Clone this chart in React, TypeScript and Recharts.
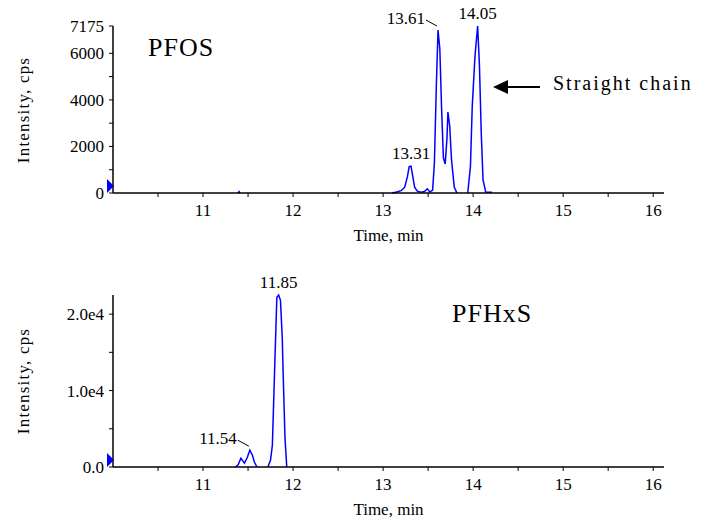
import { LineChart, Line, XAxis, YAxis, ReferenceDot } from 'recharts';

// PFOS trace (time in min, intensity in cps); null breaks the trace
const pfosTime = [11.39, 11.4, 11.41, 11.5, 13.1, 13.15, 13.2, 13.24, 13.27, 13.29, 13.31, 13.33, 13.35, 13.38, 13.42, 13.46, 13.49, 13.52, 13.55, 13.57, 13.59, 13.61, 13.63, 13.65, 13.67, 13.69, 13.71, 13.72, 13.74, 13.76, 13.79, 13.82, 13.9, 13.94, 13.97, 13.99, 14.02, 14.05, 14.07, 14.09, 14.11, 14.14, 14.21];
const pfosIntensity = [0, 60, 0, null, 0, 40, 100, 250, 700, 1130, 1150, 700, 250, 80, 30, 60, 180, 40, 120, 1300, 4400, 7000, 6200, 3600, 1500, 1250, 2400, 3480, 2870, 1430, 260, 0, null, 0, 1130, 3700, 5850, 7175, 5500, 2600, 560, 40, 30];

// PFHxS trace
const pfhxsTime = [11.36, 11.39, 11.42, 11.46, 11.49, 11.52, 11.55, 11.57, 11.6, 11.66, 11.72, 11.75, 11.77, 11.8, 11.82, 11.84, 11.86, 11.88, 11.89, 11.91, 11.93];
const pfhxsIntensity = [0, 300, 1150, 500, 1200, 2200, 1500, 650, 0, null, 0, 900, 2840, 14600, 22200, 22500, 21800, 16900, 12200, 3900, 0];

const xTicks = [10.5, 11, 11.5, 12, 12.5, 13, 13.5, 14, 14.5, 15, 15.5, 16];
const pfosTicks = [0, 1000, 2000, 3000, 4000, 5000, 6000, 7175];
const pfosTickLabels = ['0', '', '2000', '', '4000', '', '6000', '7175'];
const pfhxsTicks = [0, 5000, 10000, 15000, 20000];
const pfhxsTickLabels = ['0.0', '', '1.0e4', '', '2.0e4'];

// peak labels: [time, intensity, text, leader]
const pfosPeaks: [number, number, string, boolean][] = [
  [13.31, 1150, '13.31', false],
  [13.61, 7000, '13.61', true],
  [14.05, 7175, '14.05', false],
];
const pfhxsPeaks: [number, number, string, boolean][] = [
  [11.84, 22500, '11.85', false],
  [11.52, 2200, '11.54', true],
];

const pfosData = pfosTime.map((t, i) => ({ t, v: pfosIntensity[i] }));
const pfhxsData = pfhxsTime.map((t, i) => ({ t, v: pfhxsIntensity[i] }));

const font = 'Liberation Serif, Times New Roman, serif';
const tickStyle = { fill: '#000', fontSize: 17, fontFamily: font };

const PeakLabel = (props: any) => {
  const { cx, cy, text, leader } = props;
  if (leader) {
    return (
      <g>
        <text x={cx - 13} y={cy - 6} textAnchor="end" fontSize={17} fontFamily={font} fill="#000">{text}</text>
        <line x1={cx - 12} y1={cy - 10} x2={cx - 1} y2={cy - 4} stroke="#000" strokeWidth={1} />
      </g>
    );
  }
  return (
    <text x={cx} y={cy - 7} textAnchor="middle" fontSize={17} fontFamily={font} fill="#000">{text}</text>
  );
};

const StartMark = (props: any) => {
  const { cx, cy } = props;
  return <polygon points={`${cx - 6},${cy - 14} ${cx + 1},${cy - 7} ${cx - 6},${cy}`} fill="#0000ff" />;
};

function Chromatogram({ data, ticks, labels, max, peaks, height, top, bottom }: any) {
  return (
    <LineChart width={712} height={height} data={data} margin={{ top, right: 48, bottom, left: 0 }}>
      <XAxis
        dataKey="t"
        type="number"
        domain={[10, 16.12]}
        ticks={xTicks}
        tickFormatter={(v: number) => (Number.isInteger(v) ? String(v) : '')}
        height={30}
        tickSize={4}
        tickMargin={7}
        tick={tickStyle}
        axisLine={{ stroke: '#000', strokeWidth: 1.5 }}
        tickLine={{ stroke: '#000' }}
        label={{ value: 'Time, min', position: 'bottom', offset: 6, fill: '#000', fontSize: 17, fontFamily: font }}
      />
      <YAxis
        type="number"
        domain={[0, max]}
        ticks={ticks}
        tickFormatter={(v: number) => labels[ticks.indexOf(v)]}
        width={113}
        tickSize={4}
        tickMargin={5}
        tick={tickStyle}
        axisLine={{ stroke: '#000', strokeWidth: 1.5 }}
        tickLine={{ stroke: '#000' }}
      />
      <Line type="linear" dataKey="v" stroke="#0000ff" strokeWidth={1.5} dot={false} isAnimationActive={false} />
      <ReferenceDot x={10} y={0} ifOverflow="visible" shape={StartMark} />
      {peaks.map((p: any) => (
        <ReferenceDot
          key={p[2]}
          x={p[0]}
          y={p[1]}
          ifOverflow="visible"
          shape={(sp: any) => <PeakLabel {...sp} text={p[2]} leader={p[3]} />}
        />
      ))}
    </LineChart>
  );
}

export default function App() {
  return (
    <div style={{ position: 'absolute', left: 0, top: 0, width: 712, height: 522, background: '#fff' }}>
      <div style={{ position: 'absolute', left: 0, top: 0 }}>
        <Chromatogram data={pfosData} ticks={pfosTicks} labels={pfosTickLabels} max={7175} peaks={pfosPeaks} height={260} top={26} bottom={37} />
      </div>
      <div style={{ position: 'absolute', left: 0, top: 260 }}>
        <Chromatogram data={pfhxsData} ticks={pfhxsTicks} labels={pfhxsTickLabels} max={22500} peaks={pfhxsPeaks} height={262} top={35} bottom={25} />
      </div>
      <svg width={712} height={522} style={{ position: 'absolute', left: 0, top: 0, pointerEvents: 'none' }}>
        <text x={148} y={56} fontSize={26} letterSpacing={1} fontFamily={font} fill="#000">PFOS</text>
        <text x={452} y={322} fontSize={26} letterSpacing={1} fontFamily={font} fill="#000">PFHxS</text>
        <text x={553} y={90} fontSize={20} letterSpacing={2} fontFamily={font} fill="#000">Straight chain</text>
        <line x1={506} y1={87} x2={540} y2={87} stroke="#000" strokeWidth={2} />
        <polygon points="493,87 508,80 508,94" fill="#000" />
        <text x={29} y={110} textAnchor="middle" fontSize={17} letterSpacing={1.2} fontFamily={font} fill="#000" transform="rotate(-90 29 110)">Intensity, cps</text>
        <text x={29} y={381} textAnchor="middle" fontSize={17} letterSpacing={1.2} fontFamily={font} fill="#000" transform="rotate(-90 29 381)">Intensity, cps</text>
      </svg>
    </div>
  );
}
